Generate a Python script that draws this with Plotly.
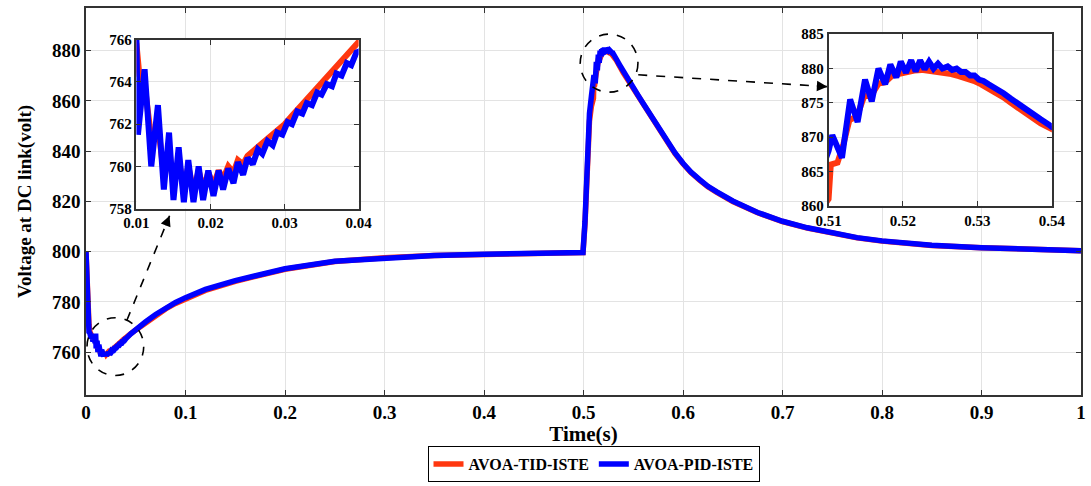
import plotly.graph_objects as go

# ---------------- data ----------------
# AVOA-PID-ISTE (blue)
t_pid_start = [0, 0.0006, 0.0012, 0.002, 0.003, 0.004, 0.005, 0.006, 0.007, 0.0082, 0.0091, 0.0097]
v_pid_start = [800, 789, 780, 773, 768, 767.5, 765.5, 766.8, 764.2, 767.2, 763.5, 767.4]
t_pid_dip = [0.0100, 0.0102, 0.0111, 0.0120, 0.0129, 0.0137, 0.0144, 0.0150, 0.0157, 0.0164,
             0.0170, 0.0177, 0.0184, 0.0190, 0.0197, 0.0204, 0.0211, 0.0217, 0.0224, 0.0231,
             0.0237, 0.0244, 0.0250, 0.0257, 0.0264, 0.0270, 0.0277, 0.0284, 0.0290, 0.0297,
             0.0304, 0.0310, 0.0317, 0.0324, 0.0330, 0.0337, 0.0344, 0.0350, 0.0357, 0.0364,
             0.0370, 0.0377, 0.0384, 0.0390, 0.0397, 0.0404]
v_pid_dip = [766.0, 761.5, 764.6, 760.0, 762.9, 758.9, 761.6, 758.4, 760.9, 758.3,
             760.3, 758.3, 760.0, 758.4, 759.8, 758.6, 759.8, 758.9, 759.9, 759.2,
             760.2, 759.6, 760.4, 760.1, 760.8, 760.6, 761.2, 761.0, 761.6, 761.5,
             762.1, 762.0, 762.6, 762.5, 763.0, 762.9, 763.5, 763.4, 763.9, 763.8,
             764.4, 764.3, 764.9, 764.8, 765.4, 765.5]
t_pid_rec = [0.045, 0.05, 0.06, 0.07, 0.08, 0.09, 0.10, 0.12, 0.15, 0.175, 0.20, 0.25, 0.30, 0.35, 0.40, 0.45, 0.4995,
             0.5015, 0.503, 0.5045, 0.506, 0.508]
v_pid_rec = [767.3, 769.0, 772.1, 775.0, 777.6, 779.8, 781.7, 785.0, 788.5, 791.1, 793.2, 796.2, 797.6, 798.5, 799.0, 799.4, 799.7,
             812.0, 830.0, 845.0, 855.0, 862.0]
t_pid_peak = [0.5100, 0.5105, 0.5118, 0.5129, 0.5139, 0.5149, 0.5158, 0.5167, 0.5176, 0.5183,
              0.5191, 0.5197, 0.5204, 0.5211, 0.5217, 0.5223, 0.5229, 0.5235, 0.5241, 0.5247,
              0.5253, 0.5260, 0.5266, 0.5272, 0.5278, 0.5284, 0.5290, 0.5296, 0.5302, 0.5308,
              0.5315, 0.5325, 0.5335, 0.5345, 0.5355, 0.5365, 0.5375, 0.5385, 0.5395, 0.5400]
v_pid_peak = [868.0, 870.3, 867.0, 875.5, 872.2, 878.4, 875.2, 880.0, 877.7, 880.6,
              878.7, 881.0, 879.4, 881.2, 879.6, 881.2, 879.9, 881.0, 880.0, 880.7,
              880.0, 880.3, 879.8, 880.0, 879.5, 879.5, 879.0, 879.0, 878.4, 878.2,
              877.7, 877.1, 876.4, 875.6, 874.8, 874.1, 873.3, 872.6, 871.9, 871.5]
t_pid_decay = [0.545, 0.55, 0.555, 0.56, 0.567, 0.575, 0.584, 0.592, 0.60, 0.608, 0.617, 0.625, 0.634, 0.65,
               0.675, 0.70, 0.725, 0.75, 0.775, 0.80, 0.85, 0.90, 0.95, 1.00]
v_pid_decay = [868.4, 865.3, 862.1, 859.0, 854.5, 849.2, 843.8, 839.3, 835.2, 831.7, 828.6, 826.0, 823.8, 820.2,
               815.6, 812.1, 809.5, 807.3, 805.6, 804.3, 802.6, 801.6, 800.9, 800.4]

# AVOA-TID-ISTE (red)
t_tid_start = [0, 0.0006, 0.0012, 0.002, 0.003, 0.004, 0.005, 0.006, 0.007, 0.0082, 0.0091, 0.0097]
v_tid_start = [800, 792, 784, 777, 771, 768, 766.5, 766.5, 765.5, 766.5, 765.0, 766.2]
t_tid_dip = [0.0100, 0.0104, 0.0112, 0.0120, 0.0129, 0.0137, 0.0144, 0.0150, 0.0157, 0.0164,
             0.0170, 0.0177, 0.0184, 0.0190, 0.0197, 0.0204, 0.0211, 0.0217, 0.0224, 0.0231,
             0.0237, 0.0244, 0.0250, 0.0260, 0.0270, 0.0280, 0.0290, 0.0300, 0.0310, 0.0320,
             0.0330, 0.0340, 0.0350, 0.0360, 0.0370, 0.0380, 0.0390, 0.0400]
v_tid_dip = [765.8, 764.3, 763.6, 761.3, 762.0, 759.6, 760.9, 759.0, 760.4, 758.8,
             760.0, 758.8, 759.8, 758.9, 759.7, 759.1, 759.8, 759.4, 760.0, 759.7,
             760.3, 760.1, 760.5, 760.8, 761.1, 761.4, 761.7, 762.0, 762.4, 762.8,
             763.2, 763.6, 764.0, 764.4, 764.8, 765.2, 765.5, 765.9]
t_tid_rec = [0.045, 0.05, 0.06, 0.07, 0.08, 0.09, 0.10, 0.12, 0.15, 0.175, 0.20, 0.25, 0.30, 0.35, 0.40, 0.45, 0.4995,
             0.5015, 0.503, 0.5045, 0.506, 0.508]
v_tid_rec = [767.4, 768.8, 771.7, 774.6, 777.2, 779.4, 781.3, 784.6, 788.2, 790.8, 793.0, 796.1, 797.6, 798.5, 799.0, 799.4, 799.7,
             811.0, 828.0, 843.0, 852.0, 858.0]
t_tid_peak = [0.5100, 0.5103, 0.5112, 0.5120, 0.5128, 0.5138, 0.5148, 0.5157, 0.5167, 0.5176,
              0.5186, 0.5195, 0.5205, 0.5215, 0.5225, 0.5235, 0.5245, 0.5255, 0.5265, 0.5275,
              0.5285, 0.5295, 0.5305, 0.5315, 0.5325, 0.5335, 0.5345, 0.5355, 0.5365, 0.5375,
              0.5385, 0.5400]
v_tid_peak = [861.0, 866.0, 866.3, 869.0, 872.5, 873.0, 876.0, 876.0, 877.8, 878.0,
              879.0, 879.2, 879.6, 879.7, 879.8, 879.7, 879.6, 879.4, 879.2, 878.9,
              878.6, 878.2, 877.7, 877.1, 876.5, 875.8, 875.0, 874.2, 873.5, 872.7,
              872.0, 871.2]
t_tid_decay = [0.545, 0.55, 0.555, 0.56, 0.567, 0.575, 0.584, 0.592, 0.60, 0.608, 0.617, 0.625, 0.634, 0.65,
               0.675, 0.70, 0.725, 0.75, 0.775, 0.80, 0.85, 0.90, 0.95, 1.00]
v_tid_decay = [868.1, 865.0, 861.8, 858.7, 854.2, 848.9, 843.5, 839.0, 835.0, 831.5, 828.4, 825.8, 823.6, 820.0,
               815.5, 812.0, 809.4, 807.2, 805.5, 804.2, 802.5, 801.6, 800.9, 800.4]

t_pid = t_pid_start + t_pid_dip + t_pid_rec + t_pid_peak + t_pid_decay
v_pid = v_pid_start + v_pid_dip + v_pid_rec + v_pid_peak + v_pid_decay
t_tid = t_tid_start + t_tid_dip + t_tid_rec + t_tid_peak + t_tid_decay
v_tid = v_tid_start + v_tid_dip + v_tid_rec + v_tid_peak + v_tid_decay

series_names = ["AVOA-TID-ISTE", "AVOA-PID-ISTE"]
x_ticks_main = [0, 0.1, 0.2, 0.3, 0.4, 0.5, 0.6, 0.7, 0.8, 0.9, 1]
x_ticklabels_main = ["0", "0.1", "0.2", "0.3", "0.4", "0.5", "0.6", "0.7", "0.8", "0.9", "1"]
y_ticks_main = [760, 780, 800, 820, 840, 860, 880]
inset1_x_ticks = [0.01, 0.02, 0.03, 0.04]
inset1_y_ticks = [758, 760, 762, 764, 766]
inset2_x_ticks = [0.51, 0.52, 0.53, 0.54]
inset2_y_ticks = [860, 865, 870, 875, 880, 885]

RED = "rgb(255,55,15)"
BLUE = "rgb(0,0,255)"
FONT = "Liberation Serif, Times New Roman, serif"

fig = go.Figure()
for xa, ya, w, show in [("x", "y", 5.5, True), ("x2", "y2", 6, False), ("x3", "y3", 6, False)]:
    fig.add_trace(go.Scatter(x=t_tid, y=v_tid, mode="lines", name=series_names[0],
                             line=dict(color=RED, width=w), xaxis=xa, yaxis=ya, showlegend=show))
    fig.add_trace(go.Scatter(x=t_pid, y=v_pid, mode="lines", name=series_names[1],
                             line=dict(color=BLUE, width=w), xaxis=xa, yaxis=ya, showlegend=show))

axis_common = dict(showline=True, linecolor="#333333", linewidth=1.5, mirror="ticks",
                   ticks="inside", tickcolor="#333333", ticklen=5, showgrid=True,
                   gridcolor="#e3e3e3", gridwidth=1, zeroline=False, automargin=False)
main_x_axis = dict(axis_common, automargin=True)

fig.update_layout(
    width=1091, height=486, autosize=False,
    margin=dict(l=86, r=5, t=8, b=83),
    paper_bgcolor="white", plot_bgcolor="white",
    font=dict(family=FONT, color="black", size=16),
    xaxis=dict(range=[0, 1], domain=[0, 1], tickvals=x_ticks_main, ticktext=x_ticklabels_main,
               tickfont=dict(family=FONT, size=19, weight="bold"),
               title=dict(text="Time(s)", font=dict(family=FONT, size=21, weight="bold"), standoff=3),
               **main_x_axis),
    yaxis=dict(range=[743, 897], domain=[0, 1], tickvals=y_ticks_main,
               tickfont=dict(family=FONT, size=19, weight="bold"),
               title=dict(text="Voltage at DC link(volt)", font=dict(family=FONT, size=19, weight="bold")),
               **axis_common),
    xaxis2=dict(range=[0.01, 0.04], domain=[0.0507, 0.274], anchor="y2", tickvals=inset1_x_ticks,
                tickfont=dict(family=FONT, size=15, weight="bold"), **axis_common),
    yaxis2=dict(range=[758, 766], domain=[0.4817, 0.9178], anchor="x2", tickvals=inset1_y_ticks,
                tickfont=dict(family=FONT, size=15, weight="bold"), **axis_common),
    xaxis3=dict(range=[0.51, 0.54], domain=[0.7463, 0.9707], anchor="y3", tickvals=inset2_x_ticks,
                tickfont=dict(family=FONT, size=15, weight="bold"), **axis_common),
    yaxis3=dict(range=[860, 885], domain=[0.4886, 0.9323], anchor="x3", tickvals=inset2_y_ticks,
                tickfont=dict(family=FONT, size=15, weight="bold"), **axis_common),
    legend=dict(orientation="h", x=0.544, xanchor="center", xref="container",
                y=0.008, yanchor="bottom", yref="container",
                bordercolor="black", borderwidth=1, bgcolor="white",
                font=dict(family=FONT, size=16, weight="bold"),
                tracegroupgap=0),
    showlegend=True,
)

# dashed ellipses marking the zoomed regions
dash_line = dict(color="black", width=1.6, dash="dash")
fig.add_shape(type="circle", xref="x", yref="y", x0=0.001, x1=0.058, y0=750.7, y1=773.7,
              line=dash_line, layer="above")
fig.add_shape(type="circle", xref="x", yref="y", x0=0.4967, x1=0.5547, y0=863.5, y1=886.6,
              line=dash_line, layer="above")
# dashed connectors
fig.add_shape(type="line", xref="x", yref="y", x0=0.041, y0=772.6, x1=0.084, y1=814.3,
              line=dash_line, layer="above")
fig.add_shape(type="line", xref="x", yref="y", x0=0.555, y0=870.4, x1=0.745, y1=865.7,
              line=dash_line, layer="above")
# arrow heads
fig.add_annotation(x=0.084, y=814.3, xref="x", yref="y", ax=-4.5, ay=11, text="",
                   showarrow=True, arrowhead=2, arrowsize=1.3, arrowwidth=1.6, arrowcolor="black")
fig.add_annotation(x=0.745, y=865.7, xref="x", yref="y", ax=-12, ay=-0.7, text="",
                   showarrow=True, arrowhead=2, arrowsize=1.3, arrowwidth=1.6, arrowcolor="black")

fig.write_html("out.html", config={"displayModeBar": False},
               post_script="document.body.style.margin='0';document.body.style.padding='0';")
